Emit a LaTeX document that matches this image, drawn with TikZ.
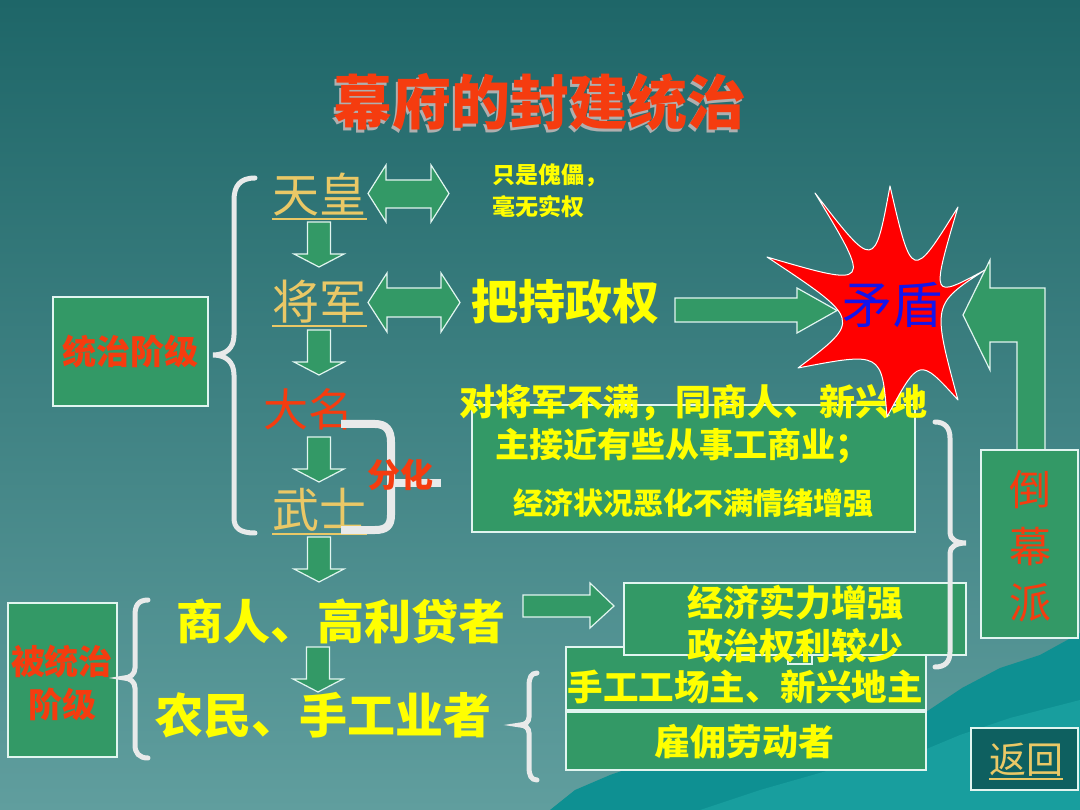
\documentclass[tikz,border=0pt]{standalone}
\usepackage{fontspec}
\setmainfont{Noto Sans CJK SC}
\definecolor{bgtop}{RGB}{30,102,104}
\definecolor{bgbot}{RGB}{96,158,158}
\definecolor{mount}{RGB}{14,144,146}
\definecolor{mountb}{RGB}{24,158,158}
\definecolor{pgreen}{RGB}{51,153,102}
\definecolor{pyellow}{RGB}{255,255,0}
\definecolor{pgold}{RGB}{234,200,102}
\definecolor{pred}{RGB}{245,60,15}
\definecolor{starred}{RGB}{255,0,0}
\definecolor{pblue}{RGB}{20,20,235}
\definecolor{brc}{RGB}{232,234,234}
\definecolor{edgec}{RGB}{225,245,240}
\definecolor{backbox}{RGB}{14,96,96}
\definecolor{shadowc}{RGB}{175,175,175}
\newcommand\fsz[1]{\fontsize{#1pt}{#1pt}\selectfont}
\tikzset{
  txt/.style={inner sep=0pt},
  greenbox/.style={draw=edgec, fill=pgreen, line width=1.5pt},
  blk/.style={draw=edgec, fill=pgreen, line width=1.2pt, line join=miter},
  bracestyle/.style={draw=brc, line width=5pt, line cap=round},
  ul/.style={pgold, line width=2pt},
  downarr/.pic={\draw[blk] (-11.5,0) -- (11.5,0) -- (11.5,32) -- (25,32) -- (0,45) -- (-25,32) -- (-11.5,32) -- cycle;}
}
\begin{document}
\begin{tikzpicture}[x=1pt,y=-1pt]
\useasboundingbox (0,0) rectangle (1080,810);
% background
\fill[top color=bgtop, bottom color=bgbot] (0,0) rectangle (1080,810);
\fill[mount] (550,810) -- (575,790) -- (610,775) -- (645,763) -- (700,745) -- (760,738) -- (850,724) -- (926,712) -- (962,688) -- (1000,668) -- (1040,655) -- (1080,633) -- (1080,810) -- cycle;
\fill[mountb] (700,810) -- (760,790) -- (830,770) -- (900,760) -- (960,735) -- (1010,718) -- (1080,700) -- (1080,810) -- cycle;

% title with shadow (one node)
\node[txt, text=pred, font=\fsz{59}\bfseries] (title) at (540,103.5) {\rlap{\hspace{-2.5pt}\raisebox{-3.5pt}{\color{shadowc}幕府的封建统治}}幕府的封建统治};

% ruling class box and brace
\node[greenbox, minimum width=155pt, minimum height=109pt, inner sep=0pt] (ruling) at (130.5,351.5) {};
\node[txt, text=pred, font=\fsz{34}\bfseries] (rulingtxt) at (130.5,351.5) {统治阶级};
\draw[bracestyle] (255,178) .. controls (240,178) and (234,186) .. (234,200) -- (234,335) .. controls (234,348) and (226,355) .. (213,355) .. controls (226,355) and (234,362) .. (234,375) -- (234,518) .. controls (234,528) and (240,533) .. (255,533);

% hierarchy
\node[txt, text=pgold, font=\fsz{47}] (tianhuang) at (319.5,195) {天皇};
\draw[ul] ([yshift=-2pt]tianhuang.south west) -- ([yshift=-2pt]tianhuang.south east);
\node[txt, text=pgold, font=\fsz{47}] (jiangjun) at (319.5,302) {将军};
\draw[ul] ([yshift=-2pt]jiangjun.south west) -- ([yshift=-2pt]jiangjun.south east);
\node[txt, text=pred, font=\fsz{45}] (daming) at (308,409) {大名};
\node[txt, text=pgold, font=\fsz{47}] (wushi) at (319.5,510) {武士};
\draw[ul] ([yshift=-2pt]wushi.south west) -- ([yshift=-2pt]wushi.south east);

\pic at (319,222) {downarr};
\pic at (319,330) {downarr};
\pic at (319,437) {downarr};
\pic at (319,537) {downarr};
\pic at (318,647) {downarr};

% double arrows
\draw[blk] (368,193.5) -- (386,165) -- (386,180) -- (431,180) -- (431,165) -- (449,193.5) -- (431,222) -- (431,208) -- (386,208) -- (386,222) -- cycle;
\draw[blk] (368,302.5) -- (387,273) -- (387,288) -- (441,288) -- (441,273) -- (460,302.5) -- (441,332) -- (441,317) -- (387,317) -- (387,332) -- cycle;

\node[txt, text=pyellow, font=\fsz{23}\bfseries, anchor=west] (puppet1) at (492,175) {只是傀儡，};
\node[txt, text=pyellow, font=\fsz{23}\bfseries, anchor=west] (puppet2) at (492,207) {毫无实权};
\node[txt, text=pyellow, font=\fsz{47}\bfseries] (power) at (565,302) {把持政权};

% arrow to conflict
\draw[blk] (675,298) -- (797,298) -- (797,288) -- (837,310.5) -- (797,333) -- (797,322) -- (675,322) -- cycle;

% fenhua bracket
\draw[draw=brc, line width=8pt] (341,424) -- (375,424) .. controls (386,424) and (391,430) .. (391,442) -- (391,515) .. controls (391,526) and (386,530) .. (375,530) -- (341,530);
\draw[draw=brc, line width=8pt] (391,483) -- (441,483);
\node[txt, text=pred, font=\fsz{33}\bfseries] (fenhua) at (400,475) {分化};

% daimyo box
\node[greenbox, minimum width=443pt, minimum height=127pt, inner sep=0pt] (dbox) at (693.5,468.5) {};
\node[txt, text=pyellow, font=\fsz{36}\bfseries] (d1) at (693,403) {对将军不满，同商人、新兴地};
\node[txt, text=pyellow, font=\fsz{34}\bfseries] (d2) at (682,446) {主接近有些从事工商业；};
\node[txt, text=pyellow, font=\fsz{30}\bfseries] (d3) at (693,503) {经济状况恶化不满情绪增强};

% bent arrow from daomu
\draw[blk] (963,315) -- (990,260) -- (990,288) -- (1045,288) -- (1045,450) -- (1017,450) -- (1017,342) -- (990,342) -- (990,370) -- cycle;

% star (explosion)
\draw[fill=starred, draw=white, line width=1pt, line join=round]
  (815,193) .. controls (874.5,270.1) .. (890,186)
  .. controls (912,281.2) .. (958,207)
  .. controls (930.8,299.2) .. (985,270)
  .. controls (932.1,304.3) .. (958,400)
  .. controls (919.2,357.2) .. (887,417)
  .. controls (881.9,351.9) .. (798,368)
  .. controls (861.9,319.9) .. (767,257)
  .. controls (872.3,287.7) .. cycle;
\node[txt, text=pblue, font=\fsz{50}] (maodun) at (892,305) {矛盾};

% daomu box
\node[greenbox, minimum width=97pt, minimum height=188pt, inner sep=0pt] (daomu) at (1029.5,544) {};
\node[txt, text=pred, font=\fsz{42}] (dao) at (1030,490) {倒};
\node[txt, text=pred, font=\fsz{42}] (mu) at (1030,547) {幕};
\node[txt, text=pred, font=\fsz{42}] (pai) at (1030,603) {派};

% ruled class
\node[greenbox, minimum width=109pt, minimum height=154pt, inner sep=0pt] (ruled) at (62.5,680) {};
\node[txt, text=pred, font=\fsz{34}\bfseries] (ruled1) at (62,662) {被统治};
\node[txt, text=pred, font=\fsz{34}\bfseries] (ruled2) at (62,704) {阶级};
\draw[bracestyle] (148,600) .. controls (138,600) and (135,606) .. (135,615) -- (135,668) .. controls (135,674) and (130,678) .. (124,678) .. controls (130,678) and (135,682) .. (135,688) -- (135,745) .. controls (135,753) and (139,758) .. (148,758);

\node[txt, text=pyellow, font=\fsz{47}\bfseries] (merchant) at (341,621) {商人、高利贷者};
\node[txt, text=pyellow, font=\fsz{48}\bfseries] (peasant) at (323,715) {农民、手工业者};

\draw[blk] (523,595) -- (590,595) -- (590,583) -- (614,606) -- (590,628) -- (590,617) -- (523,617) -- cycle;

\draw[bracestyle] (537,673) .. controls (531,673) and (529,678) .. (529,686) -- (529,717) .. controls (529,722) and (525,725) .. (520,725) .. controls (525,725) and (529,728) .. (529,733) -- (529,767) .. controls (529,775) and (531,780) .. (537,780);

% lower boxes
\node[greenbox, minimum width=360pt, minimum height=63pt, inner sep=0pt] (hbox) at (746,678.5) {};
\node[greenbox, minimum width=360pt, minimum height=58pt, inner sep=0pt] (gbox) at (746,741) {};
\node[greenbox, minimum width=342pt, minimum height=72pt, inner sep=0pt] (ebox) at (795,619) {};
\draw[greenbox, line width=1.2pt] (788,655) rectangle (812,664);
\node[txt, text=pyellow, font=\fsz{36}\bfseries] (e1) at (795,603) {经济实力增强};
\node[txt, text=pyellow, font=\fsz{36}\bfseries] (e2) at (795,646) {政治权利较少};
\node[txt, text=pyellow, font=\fsz{35.5}\bfseries] (h1) at (745,687) {手工工场主、新兴地主};
\node[txt, text=pyellow, font=\fsz{36}\bfseries] (g1) at (744,742) {雇佣劳动者};

% right brace
\draw[bracestyle] (935,422) .. controls (945,422) and (950,428) .. (950,438) -- (950,533) .. controls (950,539) and (956,543) .. (966,543) .. controls (956,543) and (950,547) .. (950,553) -- (950,652) .. controls (950,662) and (945,667) .. (935,667);

% return button
\node[draw=edgec, fill=backbox, line width=2pt, minimum width=107pt, minimum height=62pt, inner sep=0pt] (ret) at (1024.5,759) {};
\node[txt, text=pgold, font=\fsz{37}] (rettxt) at (1026,760) {返回};
\draw[ul] ([yshift=-2pt]rettxt.south west) -- ([yshift=-2pt]rettxt.south east);
\end{tikzpicture}
\end{document}
